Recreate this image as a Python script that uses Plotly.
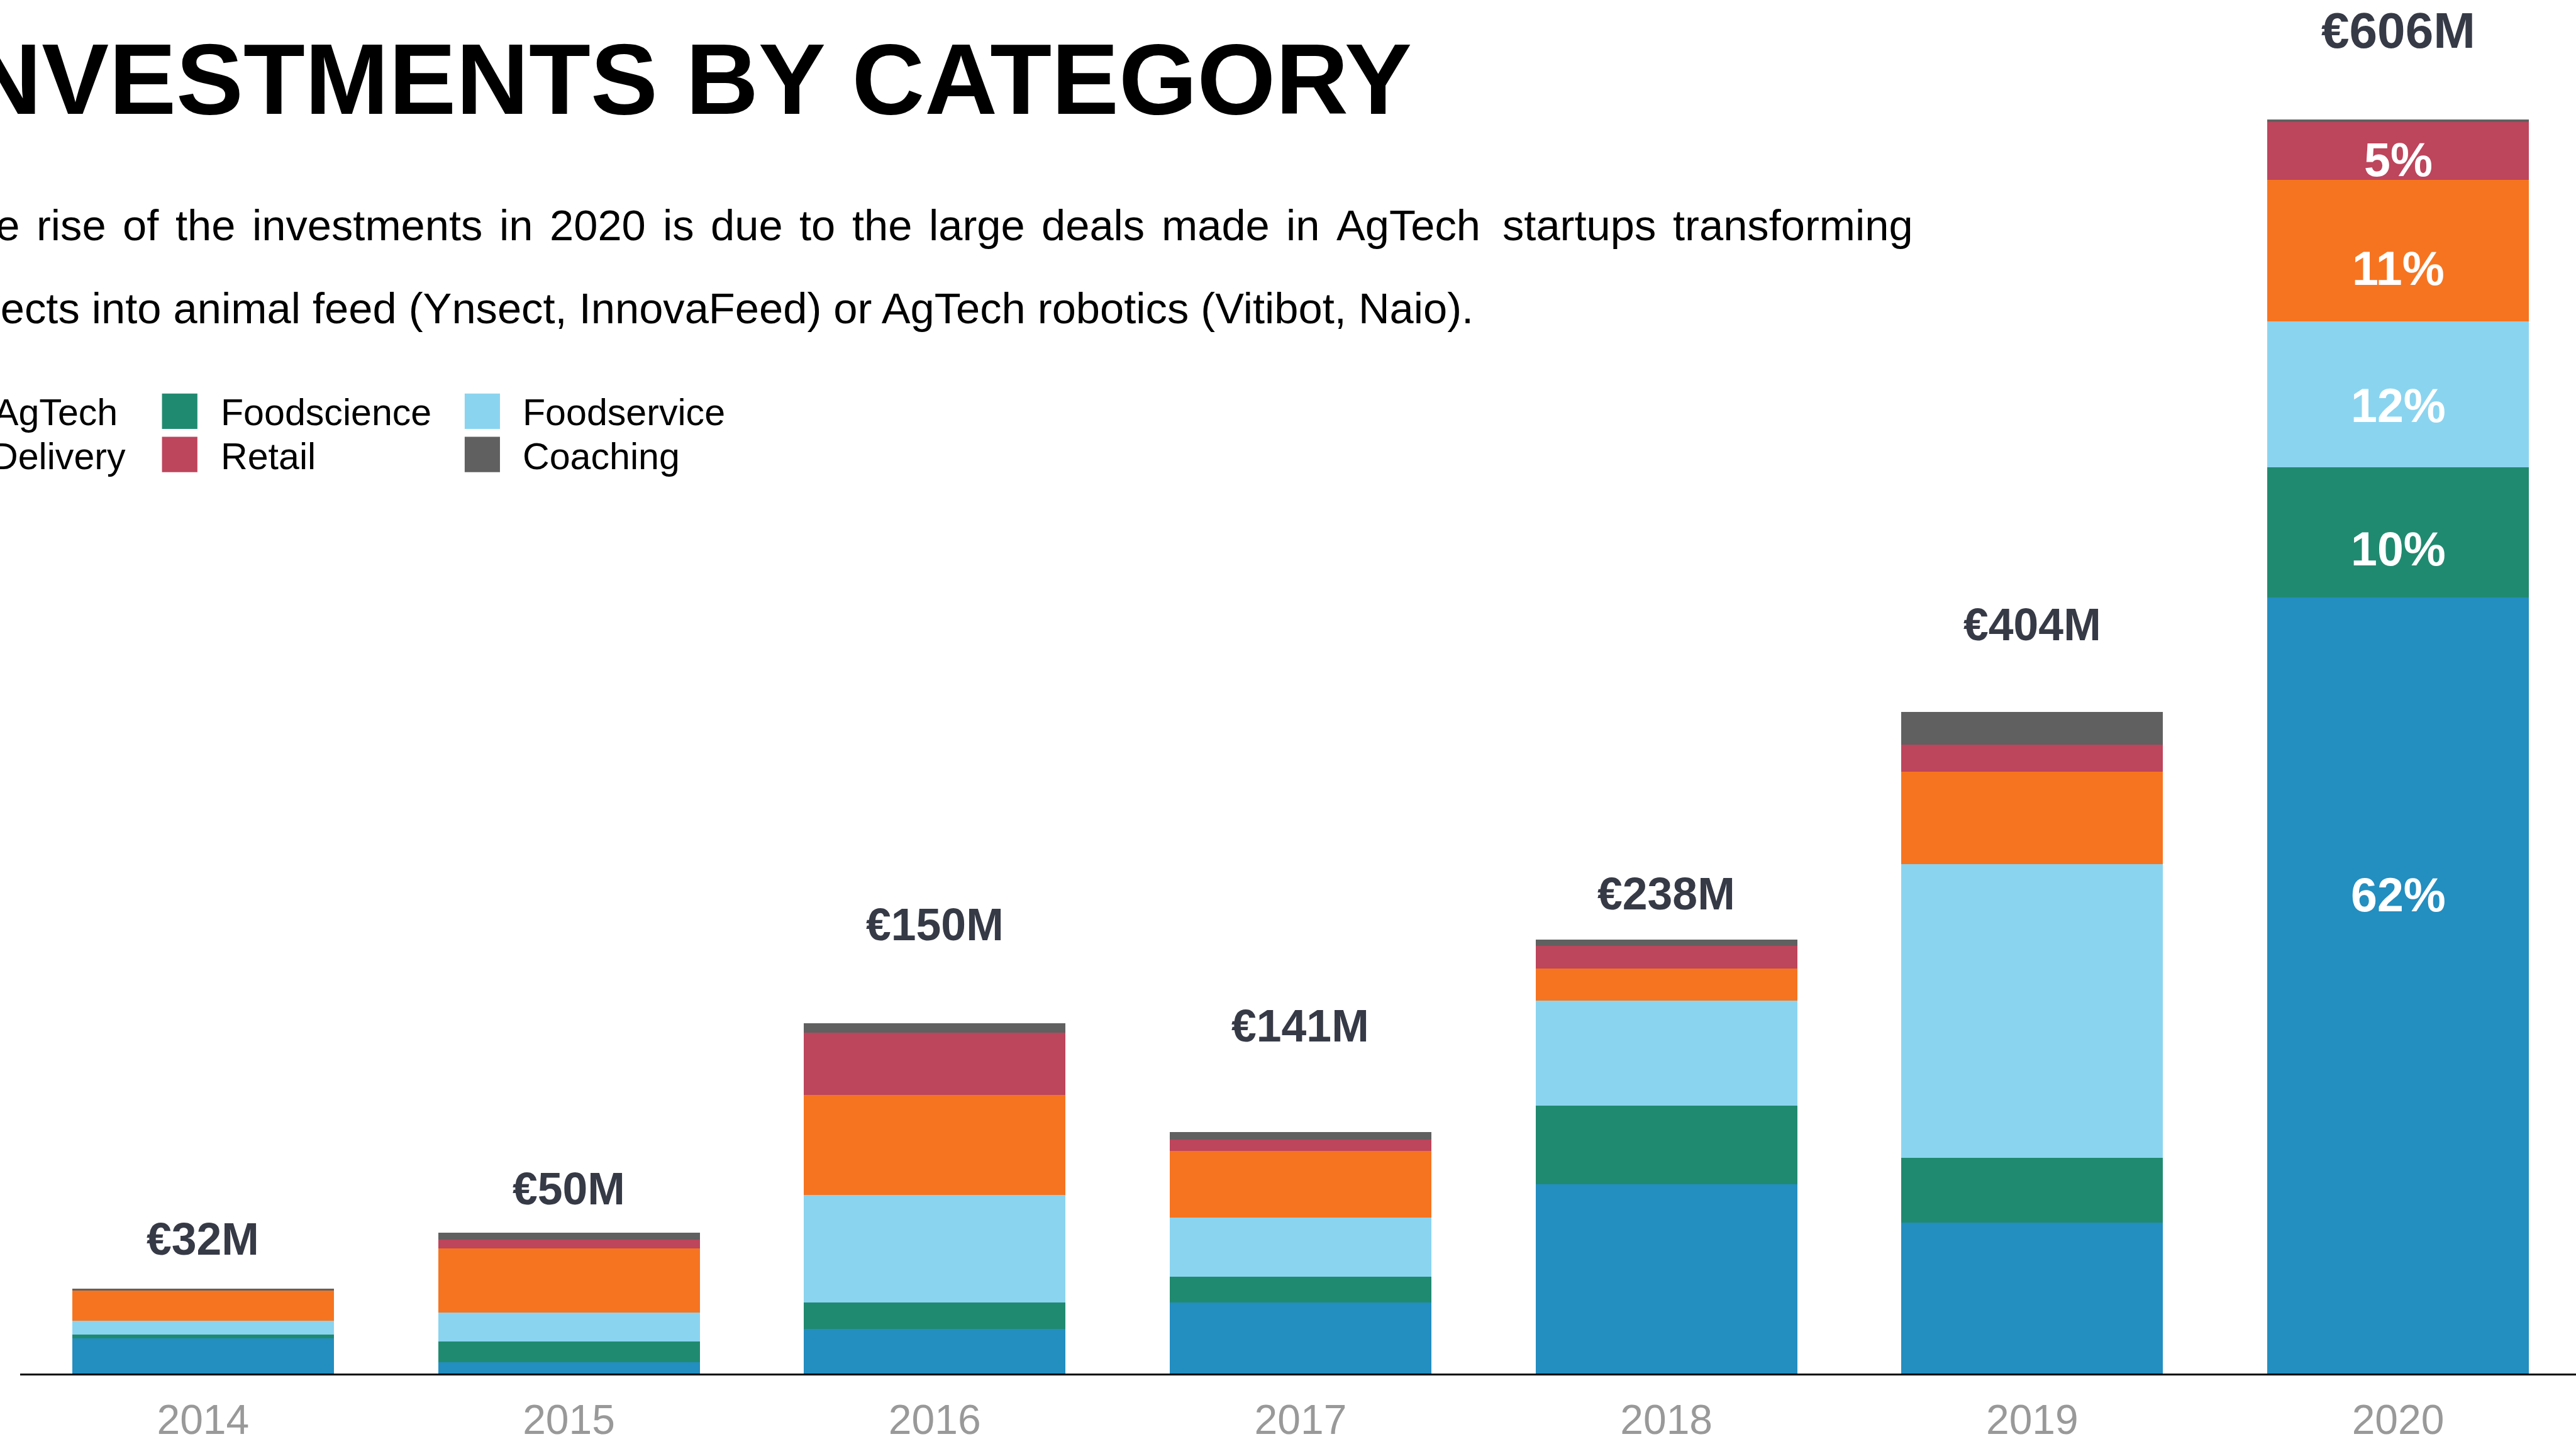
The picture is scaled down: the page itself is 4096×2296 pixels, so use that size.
import plotly.graph_objects as go

# ---------------- data ----------------
years = ["2014", "2015", "2016", "2017", "2018", "2019", "2020"]
categories = ["AgTech", "Foodscience", "Foodservice", "Delivery", "Retail", "Coaching"]
agtech      = [17.0, 5.5, 21.7, 34.2, 91.4, 72.9, 375.0]
foodscience = [1.7, 10.1, 12.7, 12.5, 37.9, 31.2, 62.7]
foodservice = [6.7, 13.9, 51.9, 28.5, 50.9, 142.0, 70.4]
delivery    = [14.8, 31.0, 48.2, 32.4, 15.5, 44.7, 68.5]
retail      = [0.0, 4.3, 30.1, 5.5, 11.0, 13.0, 27.8]
coaching    = [0.9, 3.2, 4.7, 3.7, 3.0, 15.7, 1.4]
series = [agtech, foodscience, foodservice, delivery, retail, coaching]

total_labels = ["€32M", "€50M", "€150M", "€141M", "€238M", "€404M", "€606M"]
total_label_y = [64.9, 89.3, 216.9, 168.0, 231.7, 361.9, 648.8]
pct_2020_labels = ["62%", "10%", "12%", "11%", "5%"]
pct_2020_y = [231.2, 398.3, 467.4, 533.9, 586.3]

title_text = "INVESTMENTS BY CATEGORY"
sub_line1 = "The rise of the investments in 2020 is due to the large deals made in AgTech startups transforming"
sub_line2 = "insects into animal feed (Ynsect, InnovaFeed) or AgTech robotics (Vitibot, Naio)."

colors = ["#238EC0", "#208A70", "#8AD4F0", "#F67420", "#BD455C", "#606060"]

# ---------------- geometry ----------------
S = 0.954
W, H = 4096, 2296
L, R, T, B = 32, 0, 0, 112
PW, PH = W - L - R, H - T - B
FONT = "Liberation Sans, Arial, Helvetica, sans-serif"
LABEL_COLOR = "#363A46"


def xp(xf):
    return (xf * S - L) / PW


def yp(yf):
    return 1 - (yf * S - T) / PH


fig = go.Figure()
for name, vals, col in zip(categories, series, colors):
    fig.add_trace(go.Bar(x=years, y=vals, name=name, marker=dict(color=col, line=dict(width=0)),
                         showlegend=False, hoverinfo="skip"))

ann = []
# totals above bars (x given as category index)
for i, (t, yv) in enumerate(zip(total_labels, total_label_y)):
    fs = 84 if i == len(years) - 1 else 75
    ann.append(dict(x=i, y=yv, xref="x", yref="y", text=t, showarrow=False,
                    xanchor="center", yanchor="middle",
                    font=dict(family=FONT, size=fs * S, color=LABEL_COLOR, weight="bold")))
# percentages in 2020 bar
for t, yv in zip(pct_2020_labels, pct_2020_y):
    ann.append(dict(x=len(years) - 1, y=yv, xref="x", yref="y", text=t, showarrow=False,
                    xanchor="center", yanchor="middle",
                    font=dict(family=FONT, size=79 * S, color="white", weight="bold")))

# title
ann.append(dict(x=xp(2355), y=yp(132), xref="paper", yref="paper", text=title_text, showarrow=False,
                xanchor="right", yanchor="middle",
                font=dict(family=FONT, size=168 * S, color="black", weight="bold")))

# subtitle, line 1 justified (word by word), line 2 left aligned
CW = {' ': 278, 'T': 611, 'h': 556, 'e': 556, 'r': 333, 'i': 222, 's': 500, 'o': 556, 'f': 278,
      't': 278, 'n': 556, 'v': 500, 'm': 833, '2': 556, '0': 556, 'd': 556, 'u': 556, 'l': 222,
      'a': 556, 'g': 556, 'A': 667, 'c': 500, 'p': 556}
fs_sub = 72
x_start, x_end = -92, 3187
words = sub_line1.split(" ")
wds = [sum(CW.get(c, 556) for c in w) / 1000 * fs_sub for w in words]
sp = 0.278 * fs_sub
extra = (x_end - x_start - sum(wds) - sp * (len(words) - 1)) / (len(words) - 1)
xc = x_start
for w, wd in zip(words, wds):
    ann.append(dict(x=xp(xc), y=yp(376), xref="paper", yref="paper", text=w, showarrow=False,
                    xanchor="left", yanchor="middle", borderpad=0,
                    font=dict(family=FONT, size=fs_sub * S, color="black")))
    xc += wd + sp + extra
ann.append(dict(x=xp(x_start), y=yp(514), xref="paper", yref="paper", text=sub_line2, showarrow=False,
                xanchor="left", yanchor="middle", borderpad=0,
                font=dict(family=FONT, size=fs_sub * S, color="black")))

# manual legend
shapes = []
leg_fs = 62 * S
rows_y = [687, 761]
sw_rows = [(656, 715), (728, 787)]
# column 1 (swatches fall off the canvas, as in the reference)
col1 = [("AgTech", 197), ("Delivery", 211)]
for (txt, xr), yc, (y0, y1), c in zip(col1, rows_y, sw_rows, [colors[0], colors[3]]):
    ann.append(dict(x=xp(xr), y=yp(yc), xref="paper", yref="paper", text=txt, showarrow=False,
                    xanchor="right", yanchor="middle", borderpad=0,
                    font=dict(family=FONT, size=leg_fs, color="black")))
    shapes.append(dict(type="rect", xref="paper", yref="paper", x0=xp(xr - 340), x1=xp(xr - 281),
                       y0=yp(y1), y1=yp(y0), fillcolor=c, line=dict(width=0)))
cols = [(270, 329, 367, [("Foodscience", colors[1]), ("Retail", colors[4])]),
        (774.5, 833.3, 870, [("Foodservice", colors[2]), ("Coaching", colors[5])])]
for sx0, sx1, tx, items in cols:
    for (txt, c), yc, (y0, y1) in zip(items, rows_y, sw_rows):
        shapes.append(dict(type="rect", xref="paper", yref="paper", x0=xp(sx0), x1=xp(sx1),
                           y0=yp(y1), y1=yp(y0), fillcolor=c, line=dict(width=0)))
        ann.append(dict(x=xp(tx), y=yp(yc), xref="paper", yref="paper", text=txt, showarrow=False,
                        xanchor="left", yanchor="middle", borderpad=0,
                        font=dict(family=FONT, size=leg_fs, color="black")))

fig.update_layout(
    width=W, height=H,
    margin=dict(l=L, r=R, t=T, b=B, pad=0, autoexpand=False),
    paper_bgcolor="white", plot_bgcolor="white",
    barmode="stack", bargap=0.285,
    annotations=ann, shapes=shapes,
    showlegend=False,
    xaxis=dict(type="category", range=[-0.5, -0.5 + PW / (609.75 * S)], showgrid=False, zeroline=False,
               automargin=False,
               showline=True, linecolor="black", linewidth=2.5, ticks="",
               tickfont=dict(family=FONT, size=66, color="#999999"), ticklabelstandoff=14),
    yaxis=dict(visible=False, automargin=False, range=[0, PH / S / 3.4505], showgrid=False, zeroline=False),
)

fig.write_html("out.html", config={"displayModeBar": False},
               post_script="document.body.style.margin='0';")
